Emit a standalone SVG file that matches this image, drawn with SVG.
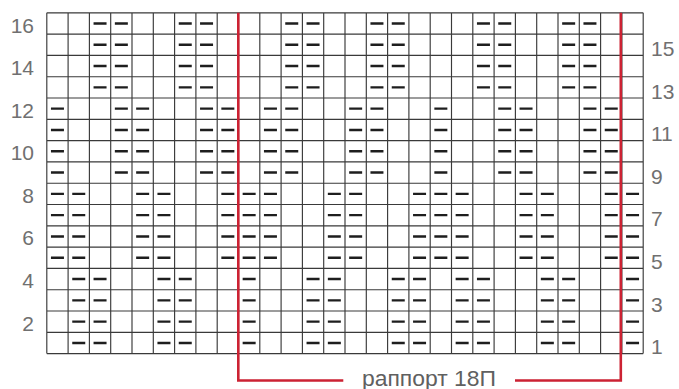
<svg xmlns="http://www.w3.org/2000/svg" xmlns:xlink="http://www.w3.org/1999/xlink" width="679" height="389" viewBox="0 0 679 389">
<style>
.grid{fill:none;stroke:#3a3a3a;stroke-width:1.15}
.dash{fill:none;stroke:#1e1e1e;stroke-width:2.4}
.red{fill:none;stroke:#cc2233;stroke-width:2.6;stroke-linejoin:miter}
.num{font-family:"Liberation Sans",Arial,sans-serif;font-size:21px;fill:#707070}
.lbl{font-family:"Liberation Sans",Arial,sans-serif;font-size:22px;fill:#606060}
</style>
<defs>
<path id="rowA" class="dash" d="M93.55 0h13M114.85 0h13M178.75 0h13M200.05 0h13M285.25 0h13M306.55 0h13M370.45 0h13M391.75 0h13M476.95 0h13M498.25 0h13M562.15 0h13M583.45 0h13"/>
<path id="rowB" class="dash" d="M50.95 0h13M114.85 0h13M136.15 0h13M200.05 0h13M221.35 0h13M263.95 0h13M285.25 0h13M349.15 0h13M370.45 0h13M434.35 0h13M498.25 0h13M519.55 0h13M583.45 0h13M604.75 0h13"/>
<path id="rowC" class="dash" d="M50.95 0h13M72.25 0h13M136.15 0h13M157.45 0h13M221.35 0h13M242.65 0h13M263.95 0h13M327.85 0h13M349.15 0h13M413.05 0h13M434.35 0h13M455.65 0h13M519.55 0h13M540.85 0h13M604.75 0h13M626.05 0h13"/>
<path id="rowD" class="dash" d="M72.25 0h13M93.55 0h13M157.45 0h13M178.75 0h13M242.65 0h13M306.55 0h13M327.85 0h13M391.75 0h13M413.05 0h13M455.65 0h13M476.95 0h13M540.85 0h13M562.15 0h13M626.05 0h13"/>
</defs>
<rect width="679" height="389" fill="#ffffff"/>
<g id="grid">
<path class="grid" d="M46.8 12.8V353.6M68.1 12.8V353.6M89.4 12.8V353.6M110.7 12.8V353.6M132 12.8V353.6M153.3 12.8V353.6M174.6 12.8V353.6M195.9 12.8V353.6M217.2 12.8V353.6M238.5 12.8V353.6M259.8 12.8V353.6M281.1 12.8V353.6M302.4 12.8V353.6M323.7 12.8V353.6M345 12.8V353.6M366.3 12.8V353.6M387.6 12.8V353.6M408.9 12.8V353.6M430.2 12.8V353.6M451.5 12.8V353.6M472.8 12.8V353.6M494.1 12.8V353.6M515.4 12.8V353.6M536.7 12.8V353.6M558 12.8V353.6M579.3 12.8V353.6M600.6 12.8V353.6M621.9 12.8V353.6M643.2 12.8V353.6M46.8 12.8H643.2M46.8 34.1H643.2M46.8 55.4H643.2M46.8 76.7H643.2M46.8 98H643.2M46.8 119.3H643.2M46.8 140.6H643.2M46.8 161.9H643.2M46.8 183.2H643.2M46.8 204.5H643.2M46.8 225.8H643.2M46.8 247.1H643.2M46.8 268.4H643.2M46.8 289.7H643.2M46.8 311H643.2M46.8 332.3H643.2M46.8 353.6H643.2"/>
</g>
<g id="stitches">
<use xlink:href="#rowA" href="#rowA" transform="translate(0,23.45)"/>
<use xlink:href="#rowA" href="#rowA" transform="translate(0,44.75)"/>
<use xlink:href="#rowA" href="#rowA" transform="translate(0,66.05)"/>
<use xlink:href="#rowA" href="#rowA" transform="translate(0,87.35)"/>
<use xlink:href="#rowB" href="#rowB" transform="translate(0,108.65)"/>
<use xlink:href="#rowB" href="#rowB" transform="translate(0,129.95)"/>
<use xlink:href="#rowB" href="#rowB" transform="translate(0,151.25)"/>
<use xlink:href="#rowB" href="#rowB" transform="translate(0,172.55)"/>
<use xlink:href="#rowC" href="#rowC" transform="translate(0,193.85)"/>
<use xlink:href="#rowC" href="#rowC" transform="translate(0,215.15)"/>
<use xlink:href="#rowC" href="#rowC" transform="translate(0,236.45)"/>
<use xlink:href="#rowC" href="#rowC" transform="translate(0,257.75)"/>
<use xlink:href="#rowD" href="#rowD" transform="translate(0,279.05)"/>
<use xlink:href="#rowD" href="#rowD" transform="translate(0,300.35)"/>
<use xlink:href="#rowD" href="#rowD" transform="translate(0,321.65)"/>
<use xlink:href="#rowD" href="#rowD" transform="translate(0,342.95)"/>
</g>
<g id="row-numbers-left" class="num" text-anchor="end">
<text x="34" y="32.5">16</text>
<text x="34" y="75">14</text>
<text x="34" y="117.6">12</text>
<text x="34" y="160.2">10</text>
<text x="34" y="202.8">8</text>
<text x="34" y="245.4">6</text>
<text x="34" y="288">4</text>
<text x="34" y="330.6">2</text>
</g>
<g id="row-numbers-right" class="num">
<text x="651" y="55.5">15</text>
<text x="651" y="98.5">13</text>
<text x="651" y="141">11</text>
<text x="651" y="183.8">9</text>
<text x="651" y="226.4">7</text>
<text x="651" y="269">5</text>
<text x="651" y="311.6">3</text>
<text x="651" y="354.4">1</text>
</g>
<g id="repeat">
<path class="red" d="M238.3 12.8V380.5H343.3M515 380.5H620.8V12.8"/>
<text class="lbl" x="429" y="385.5" text-anchor="middle" textLength="134" lengthAdjust="spacingAndGlyphs">раппорт 18П</text>
</g>
</svg>
